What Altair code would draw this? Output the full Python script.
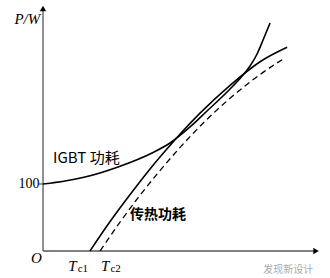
import altair as alt
import pandas as pd

# IGBT loss curve (solid, convex)
igbt_x = [0, 8.06, 15.38, 27.47, 39.93, 46.52, 53.85, 60.44, 67.77, 73.26, 75.82, 78.39, 80.59, 83.15]
igbt_y = [100, 104.5, 110.4, 125.4, 146.3, 161.2, 185.1, 210.4, 238.8, 262.7, 276.1, 294.0, 314.9, 340.3]
# Heat transfer loss curve (solid, concave)
heat1_x = [17.2, 24.5, 31.9, 39.2, 47.3, 57.5, 68.5, 79.5, 89.4]
heat1_y = [0, 43.6, 84.3, 122.5, 161.2, 205.7, 247.2, 282.5, 304.0]
# Heat transfer loss curve (dashed)
heat2_x = [20.9, 28.2, 35.5, 42.9, 50.2, 59.3, 68.5, 79.5, 88.6]
heat2_y = [0, 43.0, 83.0, 120.3, 154.6, 193.4, 227.9, 263.4, 288.1]

X_DOM = [-15.75, 105.1]
Y_DOM = [-40.3, 374.6]
xs = alt.Scale(domain=X_DOM, nice=False, zero=False)
ys = alt.Scale(domain=Y_DOM, nice=False, zero=False)

def curve(xv, yv, dash=None, sw=1.6):
    df = pd.DataFrame({"x": xv, "y": yv})
    kw = dict(color="black", strokeWidth=sw, interpolate="monotone")
    if dash:
        kw["strokeDash"] = dash
    return alt.Chart(df).mark_line(**kw).encode(
        x=alt.X("x:Q", scale=xs, axis=None),
        y=alt.Y("y:Q", scale=ys, axis=None),
    )

axes_df = pd.DataFrame({"x": [0, 0], "y": [0, 0], "x2": [100, 0], "y2": [0, 362]})
axes = alt.Chart(axes_df).mark_rule(color="#555", strokeWidth=1.3).encode(
    x=alt.X("x:Q", scale=xs, axis=None), y=alt.Y("y:Q", scale=ys, axis=None),
    x2="x2:Q", y2="y2:Q")

arrow_df = pd.DataFrame({"x": [0, 100], "y": [362, 0], "shape": ["triangle-up", "triangle-right"]})
arrows = alt.Chart(arrow_df).mark_point(filled=True, color="black", size=40, opacity=1).encode(
    x=alt.X("x:Q", scale=xs, axis=None), y=alt.Y("y:Q", scale=ys, axis=None),
    shape=alt.Shape("shape:N", scale=None))

tick_df = pd.DataFrame({"x": [-1.5], "y": [100], "x2": [0], "y2": [100]})
tick = alt.Chart(tick_df).mark_rule(color="#555", strokeWidth=1.2).encode(
    x=alt.X("x:Q", scale=xs, axis=None), y=alt.Y("y:Q", scale=ys, axis=None), x2="x2:Q", y2="y2:Q")

def txt(df, **kw):
    return alt.Chart(df).mark_text(**kw).encode(
        x=alt.X("x:Q", scale=xs, axis=None), y=alt.Y("y:Q", scale=ys, axis=None), text="t:N")

serif = "Liberation Serif"
cjk = "Noto Sans CJK SC"

lab100 = txt(pd.DataFrame({"x": [-1.3], "y": [100], "t": ["100"]}),
             font=serif, fontSize=14, align="right", baseline="middle")
labO = txt(pd.DataFrame({"x": [-0.4], "y": [-11], "t": ["O"]}),
           font=serif, fontSize=15, fontStyle="italic", align="right", baseline="middle")
labPW = txt(pd.DataFrame({"x": [-1.0], "y": [346], "t": ["P/W"]}),
            font=serif, fontSize=15, fontStyle="italic", align="right", baseline="middle")
labT = txt(pd.DataFrame({"x": [10.8, 22.8], "y": [-22, -22], "t": ["T", "T"]}),
           font=serif, fontSize=15, fontStyle="italic", align="center", baseline="middle")
labTsub = txt(pd.DataFrame({"x": [14.6, 26.6], "y": [-27, -27], "t": ["c1", "c2"]}),
              font=serif, fontSize=11, align="center", baseline="middle")
labIGBT = txt(pd.DataFrame({"x": [3.7], "y": [139], "t": ["IGBT 功耗"]}),
              font=cjk, fontSize=15, align="left", baseline="middle")
labHeat = txt(pd.DataFrame({"x": [31.9], "y": [54], "t": ["传热功耗"]}),
              font=cjk, fontSize=14, fontWeight="bold", align="left", baseline="middle")
labWm = txt(pd.DataFrame({"x": [99], "y": [-28], "t": ["发现新设计"]}),
            font=cjk, fontSize=10, color="#aaa", align="right", baseline="middle")

chart = alt.layer(
    axes, tick, arrows,
    curve(igbt_x, igbt_y),
    curve(heat1_x, heat1_y),
    curve(heat2_x, heat2_y, dash=[6, 4], sw=1.3),
    lab100, labO, labPW, labT, labTsub, labIGBT, labHeat, labWm,
).properties(
    width=330, height=278, padding=0,
    autosize=alt.AutoSizeParams(type="none"),
).configure_view(stroke=None)

chart.save("out.html", embed_options={"renderer": "svg", "actions": False})
